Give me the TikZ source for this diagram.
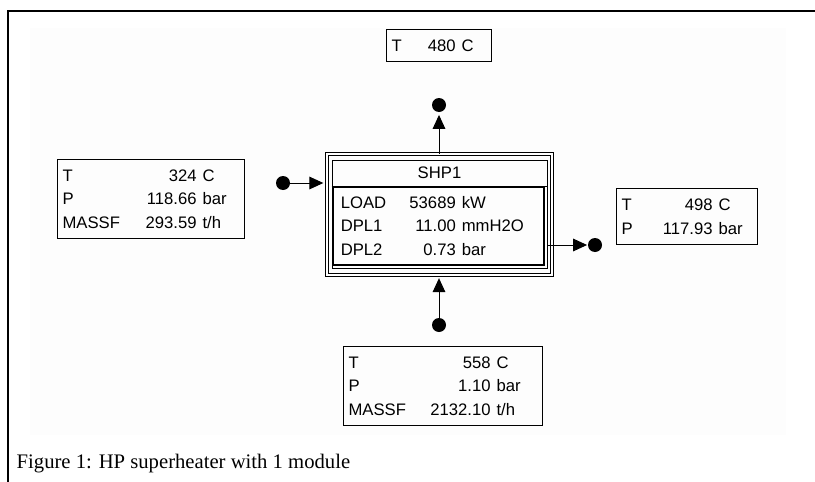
\documentclass[tikz,border=0pt]{standalone}
\usepackage{fontspec}
\setmainfont{Liberation Sans}
\newfontfamily\capfont{Liberation Serif}
\usetikzlibrary{arrows.meta, positioning}
\newlength{\labw}
\newlength{\numw}
\newcommand{\srow}[3]{\makebox[\labw][l]{#1}\makebox[\numw][r]{#2}\hspace{4.5pt}#3}

\begin{document}
\begin{tikzpicture}[
    x=0.75pt, y=-0.75pt,
    stream/.style={draw, line width=0.9pt, anchor=north west, align=left, inner xsep=3.75pt, inner ysep=0pt, font=\fontsize{12.5}{17.6}\selectfont},
    cols/.style 2 args={execute at begin node={\setlength{\labw}{#1}\setlength{\numw}{#2}}},
    dot/.style={circle, fill, inner sep=0pt, minimum size=10.5pt},
    flow/.style={-{Triangle[length=10.5pt, width=9.5pt]}, line width=0.75pt}
]
    \useasboundingbox (0,0) rectangle (815,482);
    \fill[black!0.7] (30,28) rectangle (786,435);
    \draw[line width=1.5pt] (8,482) -- (8,11) -- (815,11);

    % Superheater
    \node[draw, double, double distance=1.5pt, line width=0.75pt, minimum width=168.75pt, minimum height=90.4pt, inner sep=0pt] (shp) at (439,214.75) {};
    \node[draw, line width=0.75pt, minimum width=161.25pt, minimum height=81pt, inner sep=0pt] (shpin) at (439.5,214) {};
    \node[stream, line width=1.2pt, cols={41.25pt}{45pt}, inner xsep=6pt, text width=146.25pt, minimum height=58.5pt] (shpbody) at (332,186) {\srow{LOAD}{53689}{kW}\\ \srow{DPL1}{11.00}{mmH2O}\\ \srow{DPL2}{0.73}{bar}};
    \node[font=\fontsize{12.5}{15}\selectfont] (shpname) at (439.5,173) {SHP1};
    \draw[line width=0.75pt] (shpin.west |- shpbody.north) -- (shpin.east |- shpbody.north);

    % Streams
    \node[stream, cols={18pt}{30pt}, text width=71.25pt, minimum height=24pt] (outtop) at (386,29) {\srow{T}{480}{C}};
    \node[stream, cols={48pt}{52.5pt}, text width=132.75pt, minimum height=59.25pt] (inleft) at (57,159) {\srow{T}{324}{C}\\ \srow{P}{118.66}{bar}\\ \srow{MASSF}{293.59}{t/h}};
    \node[stream, cols={15.75pt}{52.5pt}, text width=98.25pt, minimum height=42pt] (outright) at (616,188) {\srow{T}{498}{C}\\ \srow{P}{117.93}{bar}};
    \node[stream, cols={54pt}{52.5pt}, text width=141.75pt, minimum height=59.25pt] (inbottom) at (343,346) {\srow{T}{558}{C}\\ \srow{P}{1.10}{bar}\\ \srow{MASSF}{2132.10}{t/h}};

    % Ports
    \node[dot] (topdot) at (439,105) {};
    \node[dot] (leftdot) at (283,183) {};
    \node[dot] (rightdot) at (595,245) {};
    \node[dot] (bottomdot) at (439,325) {};

    % Connections
    \draw[flow, shorten >=2pt] (shp.north) -- (topdot);
    \draw[flow, shorten >=2pt] (leftdot) -- (leftdot -| shp.west);
    \draw[flow, shorten >=0.5pt] (rightdot -| shpin.east) -- (rightdot);
    \draw[flow, shorten >=2pt] (bottomdot) -- (bottomdot |- shp.south);

    % Caption
    \node[anchor=base west, font=\capfont\fontsize{15.5}{18}\selectfont] (caption) at (12,468) {Figure 1: HP superheater with 1 module};
\end{tikzpicture}
\end{document}
